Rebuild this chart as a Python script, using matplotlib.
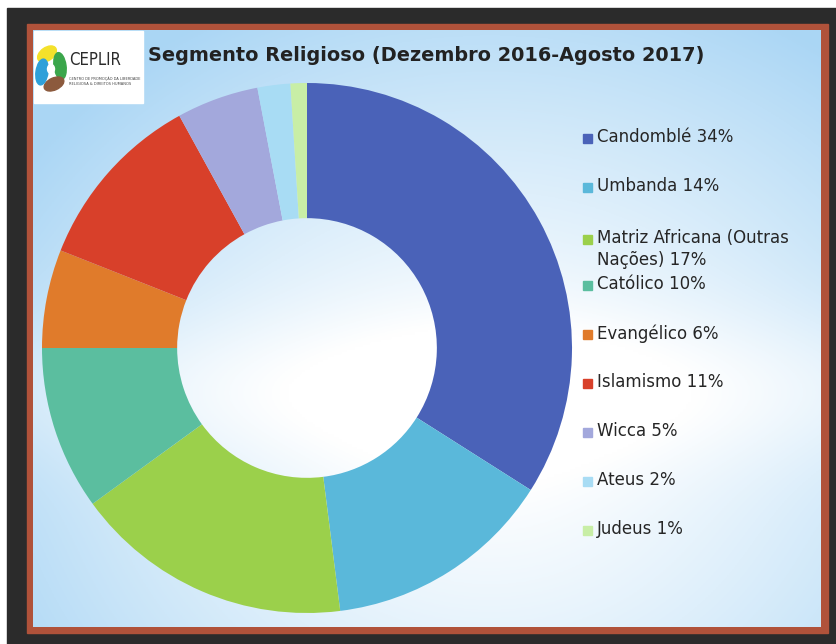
import numpy as np
import matplotlib
matplotlib.use("Agg")
import matplotlib.pyplot as plt
from matplotlib.patches import Rectangle, Ellipse

# data
labels = ["Candomblé", "Umbanda", "Matriz Africana (Outras\nNações)", "Católico",
          "Evangélico", "Islamismo", "Wicca", "Ateus", "Judeus"]
shares = [34, 14, 17, 10, 6, 11, 5, 2, 1]
colors = ["#4a62b8", "#5ab8da", "#9bd04b", "#5bbe9f", "#e07b2b",
          "#d8402a", "#a3a8dc", "#a8dcf4", "#c8eea6"]
title = "Segmento Religioso (Dezembro 2016-Agosto 2017)"

W, H = 837, 644
fig = plt.figure(figsize=(W / 100, H / 100), dpi=100, facecolor="white")

# background / frame axes in pixel coords
bg = fig.add_axes([0, 0, 1, 1])
bg.set_xlim(0, W)
bg.set_ylim(H, 0)
bg.axis("off")

bg.add_patch(Rectangle((7, 8), W - 7, H - 8, color="#2b2b2b"))
bg.add_patch(Rectangle((27, 24), 801, 609, color="#b0523a"))

# light blue gradient panel, soft whiter band through the middle
px0, py0, px1, py1 = 33, 30, 821, 627
xx, yy = np.meshgrid(np.linspace(0, 1, 300), np.linspace(0, 1, 240))
t = ((xx - 0.58) / 0.72) ** 2 + ((yy - 0.68) / 0.8) ** 2
t = np.clip(t, 0, 1) ** 0.7
band = np.exp(-((yy - 0.6) / 0.13) ** 2) * 0.25
t = np.clip(t - band, 0, 1)
blue = np.array([0.67, 0.84, 0.96])
img = 1 - t[..., None] * (1 - blue)
bg.imshow(img, extent=(px0, px1, py1, py0), aspect="auto", zorder=1)

# logo box
bg.add_patch(Rectangle((34, 31), 109, 72, color="white", zorder=2))
petals = [((47, 54), 21, 13, -35, "#f4e12b"),
          ((60, 66), 12, 27, -8, "#3ba64b"),
          ((54, 84), 21, 12, -25, "#8c5a3d"),
          ((42, 72), 12, 26, 8, "#2fa0d9")]
for (px, py), w, h, ang, c in petals:
    bg.add_patch(Ellipse((px, py), w, h, angle=ang, color=c, zorder=3))
bg.add_patch(Ellipse((51, 69), 7, 9, color="white", zorder=4))
bg.text(69, 60, "CEPLIR", fontsize=12, color="#2a2a2a", stretch="condensed",
        va="center", ha="left", zorder=4)
bg.text(69, 81, "CENTRO DE PROMOÇÃO DA LIBERDADE\nRELIGIOSA & DIREITOS HUMANOS", fontsize=2.6,
        color="#444444", va="center", ha="left", zorder=4, linespacing=1.4)

bg.text(148, 55, title, fontsize=13.9, fontweight="bold", color="#222222",
        va="center", ha="left", zorder=4)

# donut
cx, cy, r = 307, 348, 265
ax = fig.add_axes([(cx - r) / W, (H - cy - r) / H, 2 * r / W, 2 * r / H])
ax.pie(shares, colors=colors, startangle=90, counterclock=False,
       radius=1, wedgeprops=dict(width=0.51, linewidth=0))
ax.set_xlim(-1, 1)
ax.set_ylim(-1, 1)
ax.set_aspect("equal")
ax.axis("off")

# legend
for i, (lab, s, c) in enumerate(zip(labels, shares, colors)):
    y = 138 + i * 49 + (3 if "\n" in lab else 0)
    bg.add_patch(Rectangle((583, y - 4.5), 9, 9, color=c, zorder=4))
    bg.text(597, y - 10, f"{lab} {s}%", fontsize=12, color="#262626",
            va="top", ha="left", linespacing=1.3, zorder=4)

fig.savefig("out.png", dpi=100)
